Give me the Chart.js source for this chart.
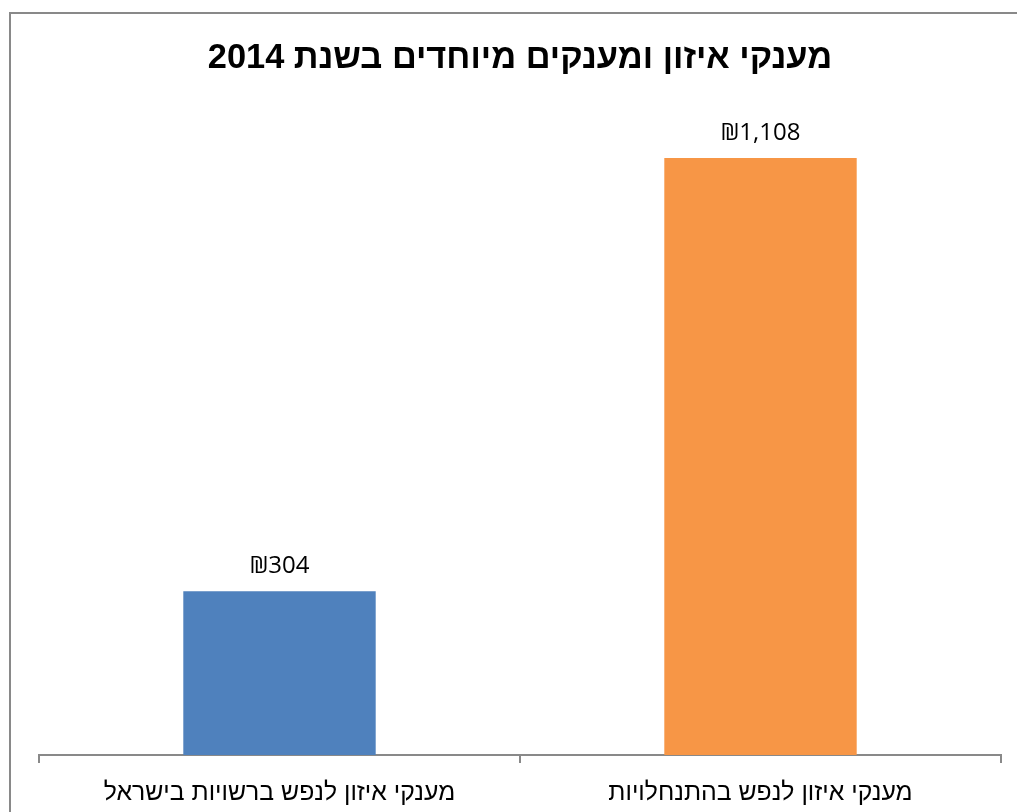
<!DOCTYPE html>
<html lang="he">
<head>
<meta charset="utf-8">
<title>מענקי איזון ומענקים מיוחדים בשנת 2014</title>
<script src="https://cdn.jsdelivr.net/npm/chart.js@4/dist/chart.umd.min.js"></script>
<style>
  html, body { margin: 0; padding: 0; background: #fff; overflow: hidden; }
  canvas { display: block; }
</style>
</head>
<body>
<canvas id="chart" width="1017" height="812" dir="rtl"></canvas>
<script>
const categories = ["מענקי איזון לנפש ברשויות בישראל", "מענקי איזון לנפש בהתנחלויות"];
const grants = [304, 1108];
const yMax = 1200;
const chartTitle = "מענקי איזון ומענקים מיוחדים בשנת 2014";

const BAR_COLORS = ["#4F81BD", "#F79646"];
const AXIS_GRAY = "#898989";

function shekel(v) {
  return "₪" + v.toLocaleString("en-US");
}

// outer frame of the chart object (top and left edges only show)
const framePlugin = {
  id: "frame",
  beforeDraw(chart) {
    const ctx = chart.ctx;
    ctx.save();
    ctx.strokeStyle = AXIS_GRAY;
    ctx.lineWidth = 2;
    ctx.beginPath();
    ctx.moveTo(10, chart.height);
    ctx.lineTo(10, 13);
    ctx.lineTo(chart.width, 13);
    ctx.stroke();
    ctx.restore();
  },
};

const valueLabels = {
  id: "valueLabels",
  afterDatasetsDraw(chart) {
    const ctx = chart.ctx;
    const meta = chart.getDatasetMeta(0);
    ctx.save();
    ctx.direction = "ltr";
    ctx.font = "24px 'Open Sans', sans-serif";
    ctx.fillStyle = "#000";
    ctx.textAlign = "center";
    ctx.textBaseline = "middle";
    meta.data.forEach((bar, i) => {
      ctx.fillText(shekel(grants[i]), bar.x, bar.y - 25);
    });
    ctx.restore();
  },
};

new Chart(document.getElementById("chart"), {
  type: "bar",
  data: {
    labels: categories,
    datasets: [{
      data: grants,
      backgroundColor: BAR_COLORS,
      borderWidth: 0,
      barPercentage: 0.4,
      categoryPercentage: 1,
    }],
  },
  options: {
    responsive: false,
    animation: false,
    layout: { padding: { left: 39, right: 16, top: 0, bottom: 0 } },
    plugins: {
      legend: { display: false },
      tooltip: { enabled: false },
      title: {
        display: true,
        text: chartTitle,
        color: "#000",
        font: { family: "'Liberation Sans', Arial, sans-serif", size: 34.4, weight: "bold" },
        padding: { top: 37.5, bottom: 29.6 },
      },
    },
    scales: {
      x: {
        grid: {
          drawOnChartArea: false,
          drawTicks: true,
          tickLength: 8,
          color: AXIS_GRAY,
          lineWidth: 2,
        },
        border: { display: true, color: AXIS_GRAY, width: 2 },
        ticks: {
          color: "#000",
          padding: 15,
          font: { family: "'Liberation Sans', Arial, sans-serif", size: 24.8 },
        },
        afterFit(scale) { scale.height = 57; },
      },
      y: {
        display: false,
        min: 0,
        max: yMax,
      },
    },
  },
  plugins: [framePlugin, valueLabels],
});
</script>
</body>
</html>
